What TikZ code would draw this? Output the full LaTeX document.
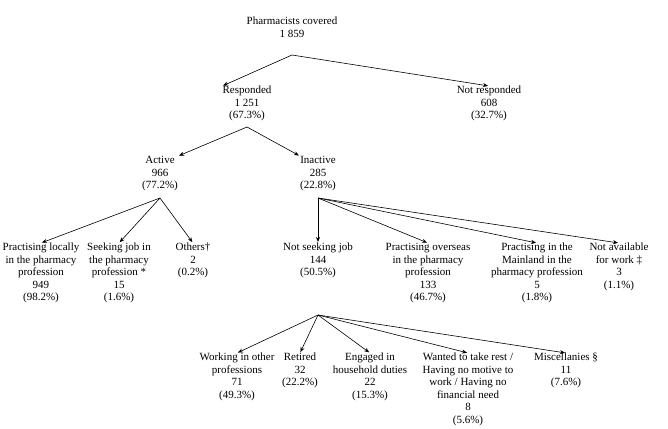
\documentclass[tikz,border=0pt]{standalone}
\usepackage{fontspec}
\setmainfont{Liberation Serif}
\usetikzlibrary{arrows.meta}
\begin{document}
\begin{tikzpicture}
        [
            x=1pt, y=-1pt,
            ->, >={Stealth[length=5pt,width=4pt]},
            semithick,
            box/.style={anchor=north, align=center, inner sep=0pt, font=\fontsize{11}{12.5}\selectfont}
        ]
        \useasboundingbox (0,0) rectangle (668,428);
        % levels 0 to 2
        \node[box] (pc) at (292, 17) {Pharmacists covered\\1 859};
        \node[box] (resp) at (247, 86) {Responded\\1 251\\(67.3\%)};
        \node[box] (nresp) at (489, 86) {Not responded\\608\\(32.7\%)};
        \node[box] (act) at (160, 156) {Active\\966\\(77.2\%)};
        \node[box] (inact) at (318, 156) {Inactive\\285\\(22.8\%)};
        % level 3
        \node[box] (local) at (41, 243) {Practising locally\\in the pharmacy\\profession\\949\\(98.2\%)};
        \node[box] (seek) at (119, 243) {Seeking job in\\the pharmacy\\profession *\\15\\(1.6\%)};
        \node[box] (oth) at (193, 243) {Others\textdagger\\2\\(0.2\%)};
        \node[box] (nseek) at (318, 243) {Not seeking job\\144\\(50.5\%)};
        \node[box] (over) at (428, 243) {Practising overseas\\in the pharmacy\\profession\\133\\(46.7\%)};
        \node[box] (main) at (537, 243) {Practising in the\\Mainland in the\\pharmacy profession\\5\\(1.8\%)};
        \node[box] (nav) at (619, 243) {Not available\\for work \textdaggerdbl\\3\\(1.1\%)};
        % level 4
        \node[box] (work) at (237, 353) {Working in other\\professions\\71\\(49.3\%)};
        \node[box] (ret) at (300, 353) {Retired\\32\\(22.2\%)};
        \node[box] (hh) at (370, 353) {Engaged in\\household duties\\22\\(15.3\%)};
        \node[box] (rest) at (468, 353) {Wanted to take rest /\\Having no motive to\\work / Having no\\financial need\\8\\(5.6\%)};
        \node[box] (misc) at (566, 353) {Miscellanies \S\\11\\(7.6\%)};
        % branch points
        \coordinate (b0) at (292, 55);
        \coordinate (b1) at (247, 127);
        \coordinate (b2) at (160, 198);
        \coordinate (b3) at (318, 198);
        \coordinate (b4) at (318, 315);
        \path[shorten >=1pt]
        (b0) edge (resp.north west)
        (b0) edge (nresp.north)
        (b1) edge (act.north east)
        (b1) edge (inact.north west)
        (b2) edge (local.north)
        (b2) edge (seek.north)
        (b2) edge (oth.north)
        (b3) edge (nseek.north)
        (b3) edge (over.north)
        (b3) edge (main.north)
        (b3) edge (nav.north)
        (b4) edge (work.north)
        (b4) edge (ret.north)
        (b4) edge (hh.north)
        (b4) edge (rest.north)
        (b4) edge (misc.north);
    \end{tikzpicture}
\end{document}
